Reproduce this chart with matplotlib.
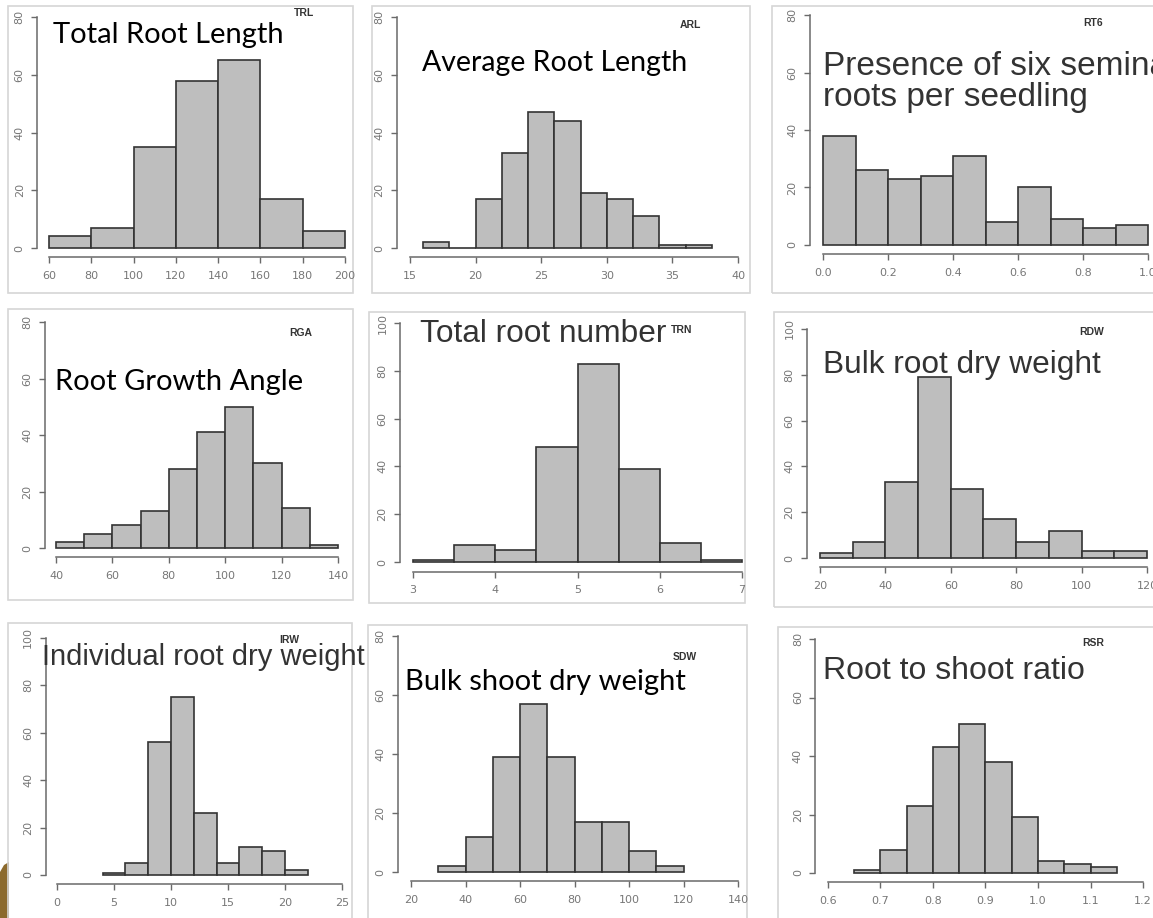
import numpy as np
import matplotlib
matplotlib.use('Agg')
import matplotlib.pyplot as plt
from matplotlib.patches import Rectangle, Polygon

W, H = 1153, 918

# ---- data: bin edges, counts, ticks ----
trl_edges = np.arange(60, 201, 20)
trl_counts = [4, 7, 35, 58, 65, 17, 6]
trl_xticks = [60, 80, 100, 120, 140, 160, 180, 200]

arl_edges = np.arange(16, 39, 2)
arl_counts = [2, 0, 17, 33, 47, 44, 19, 17, 11, 1, 1]
arl_xticks = [15, 20, 25, 30, 35, 40]

rt6_edges = np.round(np.arange(0, 1.01, 0.1), 2)
rt6_counts = [38, 26, 23, 24, 31, 8, 20, 9, 6, 7]
rt6_xticks = [0.0, 0.2, 0.4, 0.6, 0.8, 1.0]

rga_edges = np.arange(40, 141, 10)
rga_counts = [2, 5, 8, 13, 28, 41, 50, 30, 14, 1]
rga_xticks = [40, 60, 80, 100, 120, 140]

trn_edges = np.arange(3, 7.01, 0.5)
trn_counts = [1, 7, 5, 48, 83, 39, 8, 1]
trn_xticks = [3, 4, 5, 6, 7]

rdw_edges = np.arange(20, 121, 10)
rdw_counts = [2, 7, 33, 79, 30, 17, 7, 12, 3, 3]
rdw_xticks = [20, 40, 60, 80, 100, 120]

irw_edges = np.arange(4, 23, 2)
irw_counts = [1, 5, 56, 75, 26, 5, 12, 10, 2]
irw_xticks = [0, 5, 10, 15, 20, 25]

sdw_edges = np.arange(30, 121, 10)
sdw_counts = [2, 12, 39, 57, 39, 17, 17, 7, 2]
sdw_xticks = [20, 40, 60, 80, 100, 120, 140]

rsr_edges = np.round(np.arange(0.65, 1.151, 0.05), 2)
rsr_counts = [1, 8, 23, 43, 51, 38, 19, 4, 3, 2]
rsr_xticks = [0.6, 0.7, 0.8, 0.9, 1.0, 1.1, 1.2]

yticks80 = [0, 20, 40, 60, 80]
yticks100 = [0, 20, 40, 60, 80, 100]

# panel layout in pixels: px = (x of first tick, x of last tick, y of 0, y of top tick)
panels = [
    dict(e=trl_edges, c=trl_counts, xt=trl_xticks, yt=yticks80, px=(49, 345, 248, 17), code='TRL', cpos=(304, 13),
         title='Total Root Length', tpos=(53, 35), tfont='Lato', tcol='black', tsize=21,
         frame=(8, 6, 353, 293)),
    dict(e=arl_edges, c=arl_counts, xt=arl_xticks, yt=yticks80, px=(410, 738, 248, 17), code='ARL', cpos=(690, 25),
         title='Average Root Length', tpos=(422, 63), tfont='Lato', tcol='black', tsize=20.5,
         frame=(372, 6, 750, 293)),
    dict(e=rt6_edges, c=rt6_counts, xt=rt6_xticks, yt=yticks80, px=(823, 1148, 245, 15), code='RT6', cpos=(1093, 23),
         title='Presence of six seminal\nroots per seedling', tpos=(823, 82), tfont='Liberation Sans', tcol='#333333',
         tsize=24, frame=(772, 6, 1160, 293), xfmt='%.1f'),
    dict(e=rga_edges, c=rga_counts, xt=rga_xticks, yt=yticks80, px=(56, 338, 548, 322), code='RGA', cpos=(301, 333),
         title='Root Growth Angle', tpos=(55, 382), tfont='Lato', tcol='black', tsize=21,
         frame=(8, 309, 353, 600)),
    dict(e=trn_edges, c=trn_counts, xt=trn_xticks, yt=yticks100, px=(413, 742, 562, 323), code='TRN', cpos=(682, 330),
         title='Total root number', tpos=(420, 334), tfont='Liberation Sans', tcol='#333333', tsize=22.8,
         frame=(369, 312, 745, 603)),
    dict(e=rdw_edges, c=rdw_counts, xt=rdw_xticks, yt=yticks100, px=(820, 1147, 558, 329), code='RDW', cpos=(1092, 332),
         title='Bulk root dry weight', tpos=(823, 365), tfont='Liberation Sans', tcol='#333333', tsize=22.8,
         frame=(774, 312, 1160, 607)),
    dict(e=irw_edges, c=irw_counts, xt=irw_xticks, yt=yticks100, px=(57, 342, 875, 638), code='IRW', cpos=(289, 640),
         title='Individual root dry weight', tpos=(42, 657), tfont='Liberation Sans', tcol='#333333', tsize=21,
         frame=(8, 623, 352, 925)),
    dict(e=sdw_edges, c=sdw_counts, xt=sdw_xticks, yt=yticks80, px=(411, 738, 872, 636), code='SDW', cpos=(685, 657),
         title='Bulk shoot dry weight', tpos=(405, 682), tfont='Lato', tcol='black', tsize=21,
         frame=(368, 625, 747, 925)),
    dict(e=rsr_edges, c=rsr_counts, xt=rsr_xticks, yt=yticks80, px=(828, 1143, 873, 639), code='RSR', cpos=(1093, 643),
         title='Root to shoot ratio', tpos=(823, 671), tfont='Liberation Sans', tcol='#333333', tsize=23,
         frame=(778, 627, 1160, 925), xfmt='%.1f'),
]

fig = plt.figure(figsize=(W / 100, H / 100), dpi=100)
fig.patch.set_facecolor('white')

# brown slide decoration, bottom left
fig.patches.append(Polygon([(0, 1 - 918 / H), (0, 1 - 872 / H), (4 / W, 1 - 865 / H),
                            (9 / W, 1 - 862 / H), (9 / W, 0)], closed=True,
                           transform=fig.transFigure, facecolor='#8c6a2d', edgecolor='none', zorder=-2))

for p in panels:
    x0, x1 = p['xt'][0], p['xt'][-1]
    y1 = p['yt'][-1]
    pxa, pxb, py0, pyt = p['px']
    sx = (pxb - pxa) / (x1 - x0)
    sy = (py0 - pyt) / y1
    xpad = 0.04 * (x1 - x0)
    ypad = 0.04 * y1
    left = pxa - xpad * sx
    right = pxb + xpad * sx
    bottom = py0 + ypad * sy
    top = pyt - ypad * sy

    # light grey frame round each panel
    fl, ft, fr, fb = p['frame']
    fig.patches.append(Rectangle((fl / W, 1 - fb / H), (fr - fl) / W, (fb - ft) / H,
                                 transform=fig.transFigure, facecolor='none',
                                 edgecolor='#d6d6d6', lw=1.2, zorder=-1))

    ax = fig.add_axes([left / W, 1 - bottom / H, (right - left) / W, (bottom - top) / H])
    ax.patch.set_alpha(0)
    e = np.asarray(p['e'], dtype=float)
    ax.bar(e[:-1], p['c'], width=np.diff(e), align='edge', color='#bebebe',
           edgecolor='#333333', linewidth=1.2)
    ax.set_xlim(x0 - xpad, x1 + xpad)
    ax.set_ylim(-ypad, y1 + ypad)
    for s in ['top', 'right']:
        ax.spines[s].set_visible(False)
    ax.spines['left'].set_bounds(0, y1)
    ax.spines['bottom'].set_bounds(x0, x1)
    for s in ['left', 'bottom']:
        ax.spines[s].set_color('#6a6a6a')
        ax.spines[s].set_linewidth(1.1)
    ax.set_xticks(p['xt'])
    if 'xfmt' in p:
        ax.set_xticklabels([p['xfmt'] % v for v in p['xt']])
    ax.set_yticks(p['yt'])
    ax.tick_params(axis='both', colors='#6a6a6a', labelcolor='#777777', length=4, width=1, labelsize=8)
    ax.tick_params(axis='x', pad=6)
    ax.tick_params(axis='y', pad=5)
    for lab in ax.get_yticklabels():
        lab.set_rotation(90)
        lab.set_va('center')

    fig.text(p['cpos'][0] / W, 1 - p['cpos'][1] / H, p['code'], fontsize=7.5, fontweight='bold',
             color='#333333', ha='center', va='center', family='Liberation Sans')
    fig.text(p['tpos'][0] / W, 1 - p['tpos'][1] / H, p['title'], fontsize=p['tsize'], color=p['tcol'],
             ha='left', va='center', family=p['tfont'], linespacing=1.0)

fig.savefig('out.png', dpi=100)
